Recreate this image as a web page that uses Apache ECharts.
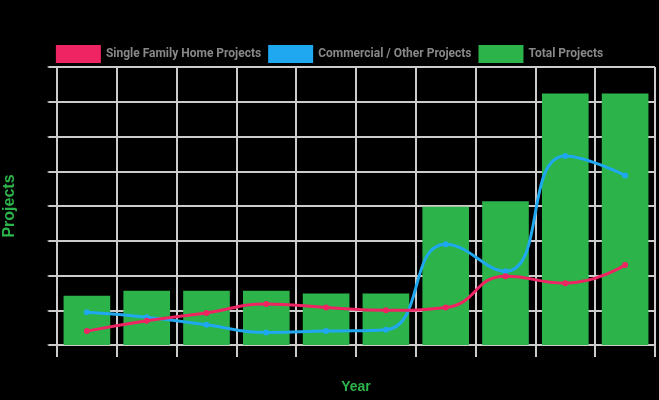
<!DOCTYPE html>
<html><head><meta charset="utf-8">
<script src="https://cdn.jsdelivr.net/npm/echarts@6/dist/echarts.min.js"></script>
<style>html,body{margin:0;padding:0;background:#000;}#c{width:659px;height:400px;}</style>
</head><body><div id="c"></div>
<script>
const years = ['2014','2015','2016','2017','2018','2019','2020','2021','2022','2023'];
const singleFamily = [20, 35, 46, 59, 54, 50, 54, 99, 89, 115];
const commercial = [47, 40, 29, 18, 20, 22, 145, 106, 272, 244];
const total = [71, 78, 78, 78, 74, 74, 199, 207, 362, 362];
const yTicks = {min: 0, max: 400, interval: 50};

const chart = echarts.init(document.getElementById('c'));
const grayLine = {color: '#cccccc', width: 2};
chart.setOption({
  backgroundColor: '#000',
  animation: false,
  legend: {
    top: 40, left: 'center', itemWidth: 45, itemHeight: 18, itemGap: 7,
    icon: 'rect',
    textStyle: {color: '#888', fontWeight: 'bold', fontSize: 12, fontFamily: 'Roboto'}
  },
  grid: {left: 57, right: 4, top: 67, bottom: 55, containLabel: false, outerBoundsMode: 'none'},
  xAxis: {
    type: 'category', data: years, name: 'Year', nameLocation: 'middle', nameGap: 35,
    nameTextStyle: {color: '#2cb34a', fontWeight: 'bold', fontSize: 14},
    axisLine: {lineStyle: grayLine},
    axisTick: {show: true, length: 12, lineStyle: grayLine},
    axisLabel: {color: '#000'},
    splitLine: {show: true, lineStyle: grayLine}
  },
  yAxis: {
    type: 'value', min: yTicks.min, max: yTicks.max, interval: yTicks.interval,
    name: 'Projects', nameLocation: 'middle', nameGap: 38,
    nameTextStyle: {color: '#2cb34a', fontWeight: 'bold', fontSize: 16},
    axisLine: {show: true, lineStyle: grayLine},
    axisTick: {show: true, length: 10, lineStyle: grayLine},
    axisLabel: {color: '#000'},
    splitLine: {show: true, lineStyle: grayLine}
  },
  series: [
    {name: 'Single Family Home Projects', type: 'line', data: singleFamily, smooth: true,
     symbol: 'circle', symbolSize: 6, z: 4,
     itemStyle: {color: '#ee2463'}, lineStyle: {width: 3, color: '#ee2463'}},
    {name: 'Commercial / Other Projects', type: 'line', data: commercial, smooth: true,
     symbol: 'circle', symbolSize: 6, z: 3,
     itemStyle: {color: '#1fa8f0'}, lineStyle: {width: 3, color: '#1fa8f0'}},
    {name: 'Total Projects', type: 'bar', data: total, barWidth: '78%',
     itemStyle: {color: '#2cb34a'}}
  ]
});
</script></body></html>
